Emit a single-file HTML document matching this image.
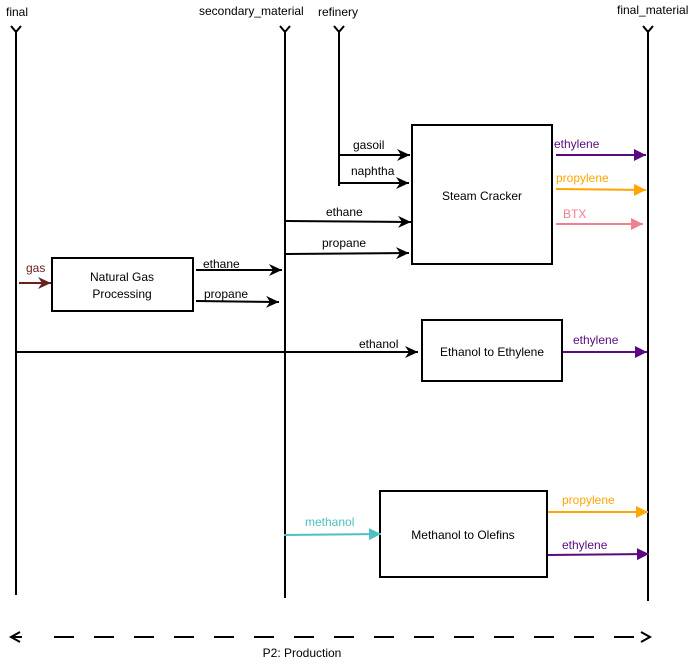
<!DOCTYPE html>
<html><head><style>
html,body{margin:0;padding:0;background:#fff;}
text{font-family:"Liberation Sans","DejaVu Sans",sans-serif;font-size:12px;}
</style></head><body>
<svg width="700" height="661" viewBox="0 0 700 661" xmlns="http://www.w3.org/2000/svg">
<defs>
<marker id="ak" markerWidth="14" markerHeight="14" refX="13" refY="7" orient="auto" markerUnits="userSpaceOnUse"><path d="M0,1 L13,7 L0,13 L4,7 z" fill="#000"/></marker>
<marker id="ap" markerWidth="14" markerHeight="14" refX="13" refY="7" orient="auto" markerUnits="userSpaceOnUse"><path d="M1,1 L13,7 L1,13 z" fill="#5a0a80"/></marker>
<marker id="ao" markerWidth="14" markerHeight="14" refX="13" refY="7" orient="auto" markerUnits="userSpaceOnUse"><path d="M1,1 L13,7 L1,13 z" fill="#ffa500"/></marker>
<marker id="ai" markerWidth="14" markerHeight="14" refX="13" refY="7" orient="auto" markerUnits="userSpaceOnUse"><path d="M1,1 L13,7 L1,13 z" fill="#f08090"/></marker>
<marker id="at" markerWidth="14" markerHeight="14" refX="13" refY="7" orient="auto" markerUnits="userSpaceOnUse"><path d="M1,1 L13,7 L1,13 z" fill="#4fc0c0"/></marker>
<marker id="ab" markerWidth="14" markerHeight="14" refX="13" refY="7" orient="auto" markerUnits="userSpaceOnUse"><path d="M0,1 L13,7 L0,13 L4,7 z" fill="#6b2020"/></marker>
</defs>
<g stroke="#000" stroke-width="2" fill="none">
<line x1="16" y1="30" x2="16" y2="595"/><path d="M11,26 L16,32 L21,26"/>
<line x1="285" y1="30" x2="285" y2="598"/><path d="M280,26 L285,32 L290,26"/>
<line x1="339" y1="30" x2="339" y2="186"/><path d="M334,26 L339,32 L344,26"/>
<line x1="648" y1="30" x2="648" y2="601"/><path d="M643,26 L648,32 L653,26"/>
<rect x="412" y="125" width="140" height="139"/>
<rect x="52" y="258" width="141" height="53"/>
<rect x="422" y="320" width="140" height="61"/>
<rect x="380" y="491" width="167" height="86"/>
<line x1="339" y1="155" x2="410" y2="155" marker-end="url(#ak)"/>
<line x1="339" y1="183" x2="409" y2="183" marker-end="url(#ak)"/>
<line x1="286" y1="221" x2="411" y2="222" marker-end="url(#ak)"/>
<line x1="286" y1="254" x2="409" y2="253" marker-end="url(#ak)"/>
<line x1="196" y1="270" x2="282" y2="270" marker-end="url(#ak)"/>
<line x1="196" y1="301" x2="279" y2="302" marker-end="url(#ak)"/>
<line x1="16" y1="352" x2="418" y2="352" marker-end="url(#ak)"/>
<line x1="19" y1="283" x2="51" y2="283" stroke="#6b2020" marker-end="url(#ab)"/>
<line x1="556" y1="155" x2="646" y2="155" stroke="#5a0a80" marker-end="url(#ap)"/>
<line x1="556" y1="189" x2="646" y2="190" stroke="#ffa500" marker-end="url(#ao)"/>
<line x1="556" y1="224" x2="643" y2="224" stroke="#f08090" marker-end="url(#ai)"/>
<line x1="563" y1="352" x2="647" y2="352" stroke="#5a0a80" marker-end="url(#ap)"/>
<line x1="284" y1="535" x2="381" y2="534" stroke="#4fc0c0" marker-end="url(#at)"/>
<line x1="548" y1="512" x2="648" y2="512" stroke="#ffa500" marker-end="url(#ao)"/>
<line x1="548" y1="555" x2="649" y2="554" stroke="#5a0a80" marker-end="url(#ap)"/>
<line x1="11" y1="637" x2="22" y2="637"/>
<line x1="54" y1="637" x2="650" y2="637" stroke-dasharray="20,20"/>
<path d="M20,632 L11,637 L20,642"/><path d="M641,632 L650,637 L641,642"/>
</g>
<g fill="#000">
<text x="6" y="16">final</text>
<text x="199" y="15">secondary_material</text>
<text x="318" y="16">refinery</text>
<text x="617" y="14">final_material</text>
<text x="353" y="149">gasoil</text>
<text x="351" y="175">naphtha</text>
<text x="326" y="216">ethane</text>
<text x="322" y="247">propane</text>
<text x="203" y="268">ethane</text>
<text x="204" y="298">propane</text>
<text x="359" y="348">ethanol</text>
<text x="482" y="200" text-anchor="middle">Steam Cracker</text>
<text x="122" y="281" text-anchor="middle">Natural Gas</text>
<text x="122" y="298" text-anchor="middle">Processing</text>
<text x="492" y="356" text-anchor="middle">Ethanol to Ethylene</text>
<text x="463" y="539" text-anchor="middle">Methanol to Olefins</text>
<text x="302" y="657" text-anchor="middle">P2: Production</text>
</g>
<text x="26" y="272" fill="#6b2020">gas</text>
<text x="554" y="148" fill="#5a0a80">ethylene</text>
<text x="556" y="182" fill="#ffa500">propylene</text>
<text x="563" y="218" fill="#f08090">BTX</text>
<text x="573" y="344" fill="#5a0a80">ethylene</text>
<text x="305" y="526" fill="#4fc0c0">methanol</text>
<text x="562" y="504" fill="#ffa500">propylene</text>
<text x="562" y="549" fill="#5a0a80">ethylene</text>
</svg>
</body></html>
